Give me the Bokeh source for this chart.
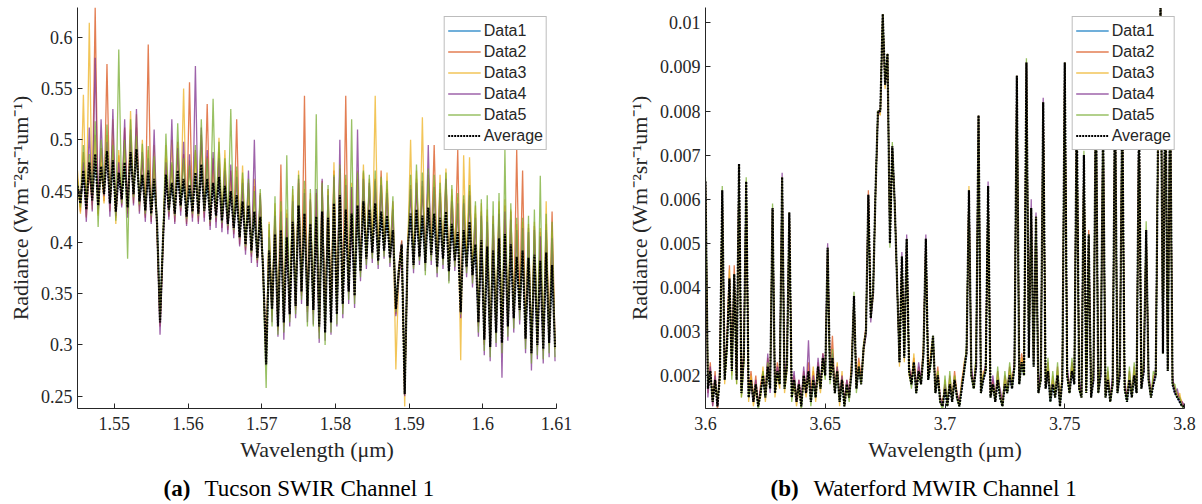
import numpy as np
from bokeh.plotting import figure
from bokeh.layouts import row, column
from bokeh.models import Range1d, FixedTicker
from bokeh.core.properties import value
from bokeh.embed import file_html
from bokeh.resources import INLINE

# ---------------- Panel (a): Tucson SWIR Channel 1 ----------------
a_wl_start = 1.545
a_wl_step = 0.0004
a_avg = [
    0.455, 0.438, 0.470, 0.432, 0.478, 0.441, 0.486, 0.436, 0.474, 0.447,
    0.489, 0.438, 0.480, 0.430, 0.468, 0.442, 0.478, 0.434, 0.488, 0.447,
    0.491, 0.440, 0.466, 0.431, 0.470, 0.428, 0.462, 0.418, 0.322, 0.402,
    0.466, 0.432, 0.458, 0.428, 0.470, 0.436, 0.462, 0.425, 0.456, 0.430,
    0.468, 0.428, 0.476, 0.431, 0.462, 0.422, 0.458, 0.426, 0.464, 0.421,
    0.455, 0.418, 0.450, 0.414, 0.446, 0.405, 0.440, 0.398, 0.436, 0.392,
    0.430, 0.385, 0.425, 0.372, 0.281, 0.392, 0.335, 0.408, 0.318, 0.412,
    0.322, 0.405, 0.330, 0.420, 0.338, 0.436, 0.352, 0.428, 0.338, 0.418,
    0.334, 0.425, 0.318, 0.430, 0.312, 0.424, 0.322, 0.438, 0.330, 0.446,
    0.340, 0.432, 0.352, 0.428, 0.348, 0.436, 0.372, 0.440, 0.384, 0.432,
    0.390, 0.438, 0.382, 0.430, 0.392, 0.426, 0.385, 0.412, 0.335, 0.372,
    0.398, 0.252, 0.392, 0.428, 0.378, 0.432, 0.386, 0.426, 0.380, 0.434,
    0.388, 0.428, 0.376, 0.424, 0.384, 0.430, 0.372, 0.418, 0.382, 0.410,
    0.332, 0.412, 0.376, 0.420, 0.368, 0.398, 0.322, 0.402, 0.305, 0.396,
    0.298, 0.392, 0.312, 0.404, 0.302, 0.408, 0.318, 0.398, 0.326, 0.386,
    0.334, 0.392, 0.306, 0.385, 0.292, 0.388, 0.300, 0.382, 0.296, 0.390, 0.302, 0.378, 0.298,
]
a_data1 = [
    0.452, 0.441, 0.466, 0.435, 0.474, 0.444, 0.480, 0.439, 0.470, 0.450,
    0.485, 0.440, 0.476, 0.433, 0.465, 0.445, 0.474, 0.437, 0.484, 0.450,
    0.488, 0.442, 0.463, 0.434, 0.466, 0.431, 0.458, 0.421, 0.326, 0.405,
    0.462, 0.434, 0.455, 0.431, 0.466, 0.438, 0.458, 0.428, 0.452, 0.433,
    0.464, 0.431, 0.472, 0.434, 0.458, 0.425, 0.455, 0.429, 0.460, 0.424,
    0.452, 0.421, 0.447, 0.417, 0.443, 0.408, 0.437, 0.401, 0.433, 0.395,
    0.427, 0.388, 0.422, 0.375, 0.285, 0.389, 0.338, 0.405, 0.321, 0.409,
    0.325, 0.402, 0.333, 0.417, 0.341, 0.432, 0.355, 0.425, 0.341, 0.415,
    0.337, 0.422, 0.321, 0.427, 0.315, 0.421, 0.325, 0.435, 0.333, 0.443,
    0.343, 0.429, 0.355, 0.425, 0.351, 0.433, 0.375, 0.437, 0.387, 0.429,
    0.393, 0.435, 0.385, 0.427, 0.395, 0.423, 0.388, 0.409, 0.338, 0.375,
    0.401, 0.256, 0.395, 0.425, 0.381, 0.429, 0.389, 0.423, 0.383, 0.431,
    0.391, 0.425, 0.379, 0.421, 0.387, 0.427, 0.375, 0.415, 0.385, 0.407,
    0.335, 0.409, 0.379, 0.417, 0.371, 0.395, 0.325, 0.399, 0.308, 0.393,
    0.301, 0.389, 0.315, 0.401, 0.305, 0.405, 0.321, 0.395, 0.329, 0.383,
    0.337, 0.389, 0.309, 0.382, 0.295, 0.385, 0.303, 0.379, 0.299, 0.387, 0.305, 0.375, 0.301,
]
a_data2 = [
    0.462, 0.430, 0.488, 0.425, 0.470, 0.436, 0.629, 0.428, 0.492, 0.440,
    0.574, 0.430, 0.500, 0.424, 0.485, 0.436, 0.512, 0.428, 0.505, 0.438,
    0.512, 0.435, 0.484, 0.424, 0.593, 0.420, 0.480, 0.410, 0.318, 0.398,
    0.482, 0.425, 0.476, 0.420, 0.498, 0.430, 0.486, 0.418, 0.556, 0.424,
    0.490, 0.420, 0.505, 0.424, 0.535, 0.416, 0.482, 0.420, 0.488, 0.414,
    0.478, 0.412, 0.470, 0.408, 0.520, 0.398, 0.462, 0.392, 0.458, 0.386,
    0.455, 0.380, 0.448, 0.368, 0.290, 0.412, 0.330, 0.430, 0.314, 0.476,
    0.318, 0.428, 0.326, 0.446, 0.334, 0.458, 0.348, 0.543, 0.332, 0.440,
    0.330, 0.448, 0.314, 0.460, 0.316, 0.452, 0.326, 0.470, 0.334, 0.472,
    0.344, 0.543, 0.356, 0.452, 0.352, 0.462, 0.376, 0.468, 0.388, 0.455,
    0.394, 0.462, 0.386, 0.470, 0.396, 0.452, 0.389, 0.440, 0.330, 0.376,
    0.402, 0.258, 0.396, 0.456, 0.382, 0.462, 0.390, 0.455, 0.384, 0.466,
    0.392, 0.495, 0.380, 0.452, 0.388, 0.458, 0.376, 0.446, 0.386, 0.490,
    0.336, 0.442, 0.380, 0.450, 0.372, 0.428, 0.318, 0.430, 0.300, 0.426,
    0.302, 0.426, 0.316, 0.432, 0.306, 0.436, 0.322, 0.430, 0.330, 0.490,
    0.338, 0.470, 0.310, 0.414, 0.296, 0.416, 0.304, 0.410, 0.300, 0.418, 0.306, 0.430, 0.302,
]
a_data3 = [
    0.470, 0.428, 0.544, 0.424, 0.614, 0.432, 0.505, 0.426, 0.478, 0.438,
    0.505, 0.432, 0.520, 0.418, 0.490, 0.440, 0.496, 0.430, 0.528, 0.441,
    0.525, 0.430, 0.500, 0.426, 0.490, 0.423, 0.495, 0.414, 0.320, 0.404,
    0.495, 0.428, 0.500, 0.424, 0.488, 0.432, 0.550, 0.420, 0.480, 0.426,
    0.488, 0.424, 0.498, 0.428, 0.484, 0.418, 0.476, 0.422, 0.502, 0.417,
    0.490, 0.414, 0.466, 0.410, 0.470, 0.402, 0.475, 0.394, 0.452, 0.388,
    0.462, 0.382, 0.440, 0.370, 0.284, 0.420, 0.328, 0.438, 0.316, 0.436,
    0.320, 0.432, 0.328, 0.452, 0.336, 0.470, 0.350, 0.452, 0.336, 0.448,
    0.332, 0.446, 0.312, 0.455, 0.318, 0.450, 0.328, 0.478, 0.332, 0.468,
    0.336, 0.462, 0.350, 0.458, 0.346, 0.470, 0.370, 0.476, 0.382, 0.462,
    0.388, 0.543, 0.380, 0.462, 0.390, 0.468, 0.383, 0.436, 0.276, 0.368,
    0.396, 0.240, 0.390, 0.500, 0.376, 0.470, 0.384, 0.522, 0.378, 0.462,
    0.386, 0.460, 0.374, 0.466, 0.382, 0.472, 0.370, 0.452, 0.380, 0.444,
    0.285, 0.485, 0.374, 0.483, 0.366, 0.436, 0.320, 0.438, 0.302, 0.432,
    0.296, 0.420, 0.310, 0.440, 0.300, 0.442, 0.316, 0.432, 0.324, 0.418,
    0.332, 0.420, 0.304, 0.418, 0.290, 0.420, 0.298, 0.414, 0.294, 0.440, 0.300, 0.410, 0.296,
]
a_data4 = [
    0.448, 0.445, 0.478, 0.420, 0.512, 0.430, 0.580, 0.432, 0.520, 0.445,
    0.498, 0.425, 0.530, 0.426, 0.478, 0.434, 0.520, 0.424, 0.510, 0.436,
    0.530, 0.428, 0.488, 0.420, 0.482, 0.418, 0.510, 0.412, 0.310, 0.396,
    0.478, 0.422, 0.520, 0.418, 0.492, 0.426, 0.498, 0.416, 0.486, 0.420,
    0.572, 0.418, 0.512, 0.420, 0.490, 0.412, 0.488, 0.414, 0.482, 0.410,
    0.470, 0.408, 0.476, 0.404, 0.464, 0.396, 0.458, 0.388, 0.470, 0.380,
    0.500, 0.376, 0.446, 0.362, 0.280, 0.405, 0.322, 0.426, 0.308, 0.430,
    0.305, 0.424, 0.318, 0.440, 0.326, 0.462, 0.340, 0.448, 0.322, 0.442,
    0.320, 0.452, 0.302, 0.462, 0.304, 0.446, 0.310, 0.464, 0.318, 0.500,
    0.326, 0.456, 0.340, 0.454, 0.336, 0.510, 0.362, 0.462, 0.374, 0.458,
    0.380, 0.460, 0.374, 0.456, 0.384, 0.448, 0.376, 0.432, 0.328, 0.364,
    0.390, 0.250, 0.384, 0.452, 0.370, 0.458, 0.378, 0.460, 0.372, 0.495,
    0.378, 0.454, 0.366, 0.448, 0.374, 0.462, 0.362, 0.440, 0.372, 0.438,
    0.326, 0.438, 0.366, 0.446, 0.356, 0.424, 0.308, 0.426, 0.290, 0.420,
    0.284, 0.418, 0.298, 0.428, 0.268, 0.430, 0.304, 0.422, 0.312, 0.412,
    0.320, 0.414, 0.292, 0.410, 0.275, 0.412, 0.286, 0.406, 0.282, 0.412, 0.288, 0.404, 0.284,
]
a_data5 = [
    0.460, 0.434, 0.495, 0.438, 0.486, 0.448, 0.518, 0.415, 0.500, 0.452,
    0.515, 0.442, 0.495, 0.421, 0.588, 0.438, 0.500, 0.384, 0.520, 0.444,
    0.504, 0.437, 0.496, 0.428, 0.494, 0.426, 0.484, 0.416, 0.324, 0.400,
    0.506, 0.430, 0.478, 0.426, 0.516, 0.434, 0.482, 0.423, 0.475, 0.428,
    0.495, 0.426, 0.520, 0.430, 0.482, 0.420, 0.540, 0.424, 0.498, 0.419,
    0.482, 0.416, 0.530, 0.412, 0.474, 0.404, 0.468, 0.396, 0.462, 0.390,
    0.450, 0.383, 0.452, 0.366, 0.258, 0.418, 0.318, 0.445, 0.310, 0.440,
    0.312, 0.485, 0.322, 0.455, 0.330, 0.466, 0.344, 0.460, 0.318, 0.452,
    0.318, 0.525, 0.306, 0.458, 0.300, 0.456, 0.312, 0.466, 0.320, 0.476,
    0.330, 0.466, 0.344, 0.520, 0.340, 0.468, 0.366, 0.470, 0.378, 0.466,
    0.384, 0.470, 0.378, 0.464, 0.386, 0.460, 0.380, 0.445, 0.332, 0.370,
    0.394, 0.254, 0.388, 0.466, 0.374, 0.476, 0.382, 0.468, 0.368, 0.472,
    0.382, 0.466, 0.370, 0.458, 0.378, 0.468, 0.360, 0.456, 0.376, 0.448,
    0.330, 0.446, 0.370, 0.456, 0.360, 0.440, 0.312, 0.442, 0.294, 0.446,
    0.288, 0.440, 0.302, 0.448, 0.292, 0.490, 0.308, 0.438, 0.316, 0.424,
    0.324, 0.424, 0.296, 0.426, 0.282, 0.432, 0.290, 0.465, 0.286, 0.428, 0.292, 0.420, 0.288,
]
a_xlim = (1.545, 1.61)
a_ylim = (0.238, 0.629)
a_xticks = [1.55, 1.56, 1.57, 1.58, 1.59, 1.6, 1.61]
a_xtick_labels = ["1.55", "1.56", "1.57", "1.58", "1.59", "1.6", "1.61"]
a_yticks = [0.25, 0.3, 0.35, 0.4, 0.45, 0.5, 0.55, 0.6]
a_ytick_labels = ["0.25", "0.3", "0.35", "0.4", "0.45", "0.5", "0.55", "0.6"]
a_tag = "(a)"
a_caption = "Tucson SWIR Channel 1"

# ---------------- Panel (b): Waterford MWIR Channel 1 ----------------
b_wl_start = 3.6
b_wl_step = 0.001
b_avg = [
    0.0064, 0.0017, 0.0021, 0.0014, 0.0019, 0.0013, 0.0020, 0.0062, 0.0019, 0.0027,
    0.0042, 0.0021, 0.0043, 0.0019, 0.0068, 0.0016, 0.0024, 0.0064, 0.0015, 0.0019,
    0.0014, 0.0018, 0.0013, 0.0016, 0.0020, 0.0015, 0.0022, 0.0017, 0.0058, 0.0016,
    0.0021, 0.0018, 0.0065, 0.0017, 0.0022, 0.0057, 0.0015, 0.0019, 0.0014, 0.0018,
    0.0013, 0.0020, 0.0016, 0.0021, 0.0014, 0.0019, 0.0015, 0.0022, 0.0017, 0.0024,
    0.0020, 0.0049, 0.0019, 0.0024, 0.0016, 0.0021, 0.0014, 0.0019, 0.0013, 0.0018,
    0.0015, 0.0021, 0.0038, 0.0017, 0.0022, 0.0018, 0.0026, 0.0030, 0.0061, 0.0033,
    0.0039, 0.0062, 0.0080, 0.0080, 0.0102, 0.0086, 0.0093, 0.0050, 0.0072, 0.0059,
    0.0041, 0.0023, 0.0047, 0.0024, 0.0051, 0.0021, 0.0018, 0.0023, 0.0016, 0.0021,
    0.0018, 0.0025, 0.0051, 0.0019, 0.0023, 0.0029, 0.0016, 0.0020, 0.0014, 0.0013,
    0.0017, 0.0013, 0.0018, 0.0014, 0.0019, 0.0015, 0.0013, 0.0017, 0.0021, 0.0025,
    0.0062, 0.0020, 0.0017, 0.0022, 0.0079, 0.0016, 0.0019, 0.0021, 0.0063, 0.0015,
    0.0018, 0.0014, 0.0019, 0.0015, 0.0013, 0.0018, 0.0016, 0.0020, 0.0017, 0.0022,
    0.0088, 0.0018, 0.0023, 0.0020, 0.0091, 0.0024, 0.0058, 0.0022, 0.0056, 0.0016,
    0.0019, 0.0082, 0.0017, 0.0021, 0.0014, 0.0018, 0.0015, 0.0020, 0.0013, 0.0019,
    0.0091, 0.0020, 0.0016, 0.0021, 0.0018, 0.0081, 0.0017, 0.0015, 0.0070, 0.0016,
    0.0052, 0.0015, 0.0019, 0.0086, 0.0016, 0.0020, 0.0078, 0.0015, 0.0019, 0.0014,
    0.0018, 0.0085, 0.0016, 0.0020, 0.0082, 0.0017, 0.0014, 0.0019, 0.0015, 0.0020,
    0.0016, 0.0080, 0.0017, 0.0021, 0.0053, 0.0019, 0.0015, 0.0018, 0.0020, 0.0077,
    0.01034, 0.0025, 0.0090, 0.0021, 0.0085, 0.0018, 0.0016, 0.0015, 0.0014, 0.0013, 0.0013,
]
b_data1 = [
    0.0064, 0.0017, 0.0021, 0.0014, 0.0019, 0.0013, 0.0020, 0.0062, 0.0019, 0.0027,
    0.0042, 0.0021, 0.0043, 0.0019, 0.0068, 0.0016, 0.0024, 0.0064, 0.0015, 0.0019,
    0.0014, 0.0018, 0.0013, 0.0016, 0.0020, 0.0015, 0.0022, 0.0017, 0.0058, 0.0016,
    0.0021, 0.0018, 0.0065, 0.0017, 0.0022, 0.0057, 0.0015, 0.0019, 0.0014, 0.0018,
    0.0013, 0.0020, 0.0016, 0.0021, 0.0014, 0.0019, 0.0015, 0.0022, 0.0017, 0.0024,
    0.0020, 0.0049, 0.0019, 0.0024, 0.0016, 0.0021, 0.0014, 0.0019, 0.0013, 0.0018,
    0.0015, 0.0021, 0.0038, 0.0017, 0.0022, 0.0018, 0.0026, 0.0030, 0.0061, 0.0033,
    0.0039, 0.0062, 0.0080, 0.0080, 0.0102, 0.0086, 0.0093, 0.0050, 0.0072, 0.0059,
    0.0041, 0.0023, 0.0047, 0.0024, 0.0051, 0.0021, 0.0018, 0.0023, 0.0016, 0.0021,
    0.0018, 0.0025, 0.0051, 0.0019, 0.0023, 0.0029, 0.0016, 0.0020, 0.0014, 0.0013,
    0.0017, 0.0013, 0.0018, 0.0014, 0.0019, 0.0015, 0.0013, 0.0017, 0.0021, 0.0025,
    0.0062, 0.0020, 0.0017, 0.0022, 0.0079, 0.0016, 0.0019, 0.0021, 0.0063, 0.0015,
    0.0018, 0.0014, 0.0019, 0.0015, 0.0013, 0.0018, 0.0016, 0.0020, 0.0017, 0.0022,
    0.0088, 0.0018, 0.0023, 0.0020, 0.0091, 0.0024, 0.0058, 0.0022, 0.0056, 0.0016,
    0.0019, 0.0082, 0.0017, 0.0021, 0.0014, 0.0018, 0.0015, 0.0020, 0.0013, 0.0019,
    0.0091, 0.0020, 0.0016, 0.0021, 0.0018, 0.0081, 0.0017, 0.0015, 0.0070, 0.0016,
    0.0052, 0.0015, 0.0019, 0.0086, 0.0016, 0.0020, 0.0078, 0.0015, 0.0019, 0.0014,
    0.0018, 0.0085, 0.0016, 0.0020, 0.0082, 0.0017, 0.0014, 0.0019, 0.0015, 0.0020,
    0.0016, 0.0080, 0.0017, 0.0021, 0.0053, 0.0019, 0.0015, 0.0018, 0.0020, 0.0077,
    0.01034, 0.0025, 0.0090, 0.0021, 0.0085, 0.0018, 0.0016, 0.0015, 0.0014, 0.0013, 0.0013,
]
b_data2 = [
    0.0064, 0.0016, 0.0023, 0.0013, 0.0021, 0.0012, 0.0022, 0.0061, 0.0020, 0.0029,
    0.0045, 0.0023, 0.0045, 0.0020, 0.0068, 0.0017, 0.0026, 0.0064, 0.0016, 0.0021,
    0.0015, 0.0020, 0.0013, 0.0018, 0.0021, 0.0016, 0.0024, 0.0018, 0.0058, 0.0017,
    0.0023, 0.0019, 0.0065, 0.0018, 0.0024, 0.0057, 0.0016, 0.0020, 0.0015, 0.0019,
    0.0014, 0.0021, 0.0017, 0.0023, 0.0015, 0.0021, 0.0016, 0.0023, 0.0018, 0.0025,
    0.0021, 0.0049, 0.0020, 0.0029, 0.0017, 0.0022, 0.0015, 0.0020, 0.0014, 0.0019,
    0.0016, 0.0023, 0.0038, 0.0018, 0.0024, 0.0019, 0.0027, 0.0031, 0.0062, 0.0034,
    0.0039, 0.0062, 0.0080, 0.0080, 0.0102, 0.0086, 0.0093, 0.0051, 0.0072, 0.0059,
    0.0041, 0.0024, 0.0046, 0.0026, 0.0050, 0.0022, 0.0019, 0.0024, 0.0017, 0.0022,
    0.0019, 0.0026, 0.0051, 0.0020, 0.0024, 0.0028, 0.0017, 0.0022, 0.0015, 0.0014,
    0.0018, 0.0014, 0.0020, 0.0015, 0.0021, 0.0016, 0.0014, 0.0019, 0.0022, 0.0026,
    0.0062, 0.0021, 0.0018, 0.0024, 0.0079, 0.0017, 0.0020, 0.0022, 0.0063, 0.0016,
    0.0019, 0.0015, 0.0021, 0.0016, 0.0014, 0.0020, 0.0017, 0.0022, 0.0018, 0.0023,
    0.0088, 0.0019, 0.0025, 0.0021, 0.0091, 0.0025, 0.0058, 0.0023, 0.0056, 0.0017,
    0.0020, 0.0082, 0.0018, 0.0023, 0.0015, 0.0019, 0.0016, 0.0022, 0.0014, 0.0020,
    0.0091, 0.0021, 0.0017, 0.0023, 0.0019, 0.0081, 0.0018, 0.0016, 0.0070, 0.0017,
    0.0053, 0.0016, 0.0020, 0.0086, 0.0017, 0.0022, 0.0078, 0.0016, 0.0021, 0.0015,
    0.0019, 0.0085, 0.0017, 0.0022, 0.0082, 0.0018, 0.0015, 0.0021, 0.0016, 0.0022,
    0.0017, 0.0080, 0.0018, 0.0023, 0.0053, 0.0020, 0.0016, 0.0019, 0.0021, 0.0077,
    0.01034, 0.0026, 0.0090, 0.0022, 0.0085, 0.0019, 0.0017, 0.0016, 0.0015, 0.0014, 0.0013,
]
b_data3 = [
    0.0063, 0.0019, 0.0020, 0.0016, 0.0018, 0.0015, 0.0019, 0.0062, 0.0018, 0.0027,
    0.0044, 0.0020, 0.0042, 0.0018, 0.0068, 0.0015, 0.0023, 0.0063, 0.0014, 0.0020,
    0.0013, 0.0017, 0.0014, 0.0015, 0.0022, 0.0014, 0.0021, 0.0019, 0.0058, 0.0015,
    0.0020, 0.0017, 0.0065, 0.0016, 0.0021, 0.0057, 0.0015, 0.0018, 0.0013, 0.0017,
    0.0013, 0.0019, 0.0015, 0.0020, 0.0016, 0.0022, 0.0014, 0.0021, 0.0016, 0.0023,
    0.0020, 0.0048, 0.0019, 0.0023, 0.0016, 0.0023, 0.0013, 0.0021, 0.0013, 0.0017,
    0.0015, 0.0022, 0.0037, 0.0017, 0.0023, 0.0018, 0.0025, 0.0030, 0.0061, 0.0033,
    0.0038, 0.0061, 0.0080, 0.0079, 0.0102, 0.0085, 0.0093, 0.0050, 0.0071, 0.0059,
    0.0041, 0.0022, 0.0047, 0.0023, 0.0051, 0.0020, 0.0018, 0.0025, 0.0016, 0.0021,
    0.0018, 0.0027, 0.0050, 0.0019, 0.0025, 0.0029, 0.0016, 0.0021, 0.0014, 0.0013,
    0.0019, 0.0013, 0.0019, 0.0014, 0.0020, 0.0015, 0.0013, 0.0018, 0.0023, 0.0025,
    0.0063, 0.0020, 0.0017, 0.0023, 0.0079, 0.0016, 0.0021, 0.0021, 0.0063, 0.0015,
    0.0018, 0.0014, 0.0020, 0.0016, 0.0013, 0.0019, 0.0016, 0.0021, 0.0019, 0.0022,
    0.0088, 0.0018, 0.0024, 0.0020, 0.0091, 0.0024, 0.0058, 0.0024, 0.0056, 0.0016,
    0.0019, 0.0082, 0.0017, 0.0022, 0.0015, 0.0020, 0.0015, 0.0021, 0.0013, 0.0021,
    0.0091, 0.0020, 0.0016, 0.0022, 0.0020, 0.0081, 0.0017, 0.0015, 0.0070, 0.0016,
    0.0052, 0.0015, 0.0021, 0.0086, 0.0016, 0.0021, 0.0078, 0.0015, 0.0020, 0.0014,
    0.0018, 0.0085, 0.0016, 0.0021, 0.0082, 0.0017, 0.0015, 0.0020, 0.0015, 0.0021,
    0.0016, 0.0080, 0.0017, 0.0022, 0.0053, 0.0019, 0.0015, 0.0020, 0.0020, 0.0077,
    0.01034, 0.0025, 0.0090, 0.0021, 0.0085, 0.0018, 0.0017, 0.0015, 0.0016, 0.0013, 0.0013,
]
b_data4 = [
    0.0064, 0.0015, 0.0022, 0.0013, 0.0020, 0.0013, 0.0021, 0.0062, 0.0020, 0.0028,
    0.0041, 0.0022, 0.0042, 0.0021, 0.0067, 0.0017, 0.0025, 0.0064, 0.0016, 0.0018,
    0.0014, 0.0019, 0.0013, 0.0017, 0.0019, 0.0016, 0.0025, 0.0016, 0.0058, 0.0017,
    0.0022, 0.0019, 0.0066, 0.0018, 0.0025, 0.0056, 0.0016, 0.0021, 0.0014, 0.0019,
    0.0014, 0.0022, 0.0016, 0.0028, 0.0014, 0.0020, 0.0016, 0.0024, 0.0018, 0.0025,
    0.0021, 0.0050, 0.0021, 0.0025, 0.0017, 0.0022, 0.0015, 0.0020, 0.0014, 0.0019,
    0.0016, 0.0020, 0.0038, 0.0018, 0.0021, 0.0019, 0.0026, 0.0029, 0.0061, 0.0032,
    0.0039, 0.0062, 0.0079, 0.0080, 0.0101, 0.0086, 0.0092, 0.0050, 0.0072, 0.0060,
    0.0040, 0.0023, 0.0048, 0.0024, 0.0052, 0.0022, 0.0019, 0.0022, 0.0017, 0.0023,
    0.0019, 0.0025, 0.0052, 0.0020, 0.0023, 0.0028, 0.0017, 0.0020, 0.0015, 0.0013,
    0.0018, 0.0014, 0.0018, 0.0015, 0.0019, 0.0016, 0.0014, 0.0017, 0.0022, 0.0026,
    0.0062, 0.0022, 0.0018, 0.0022, 0.0079, 0.0017, 0.0019, 0.0023, 0.0064, 0.0016,
    0.0020, 0.0015, 0.0019, 0.0017, 0.0014, 0.0018, 0.0018, 0.0020, 0.0017, 0.0024,
    0.0088, 0.0019, 0.0023, 0.0021, 0.0091, 0.0025, 0.0060, 0.0022, 0.0057, 0.0017,
    0.0021, 0.0083, 0.0018, 0.0021, 0.0016, 0.0018, 0.0017, 0.0020, 0.0014, 0.0019,
    0.0091, 0.0022, 0.0017, 0.0021, 0.0019, 0.0081, 0.0019, 0.0016, 0.0070, 0.0017,
    0.0052, 0.0016, 0.0019, 0.0086, 0.0018, 0.0020, 0.0078, 0.0017, 0.0019, 0.0015,
    0.0020, 0.0085, 0.0017, 0.0020, 0.0082, 0.0019, 0.0015, 0.0019, 0.0017, 0.0020,
    0.0018, 0.0080, 0.0018, 0.0021, 0.0052, 0.0021, 0.0016, 0.0018, 0.0022, 0.0077,
    0.01034, 0.0026, 0.0090, 0.0022, 0.0085, 0.0020, 0.0016, 0.0017, 0.0014, 0.0014, 0.0013,
]
b_data5 = [
    0.0065, 0.0017, 0.0021, 0.0014, 0.0019, 0.0014, 0.0020, 0.0063, 0.0019, 0.0026,
    0.0042, 0.0019, 0.0043, 0.0018, 0.0068, 0.0015, 0.0023, 0.0065, 0.0015, 0.0019,
    0.0015, 0.0018, 0.0012, 0.0016, 0.0021, 0.0015, 0.0023, 0.0017, 0.0059, 0.0016,
    0.0021, 0.0018, 0.0065, 0.0017, 0.0022, 0.0057, 0.0014, 0.0019, 0.0015, 0.0018,
    0.0012, 0.0020, 0.0017, 0.0021, 0.0013, 0.0019, 0.0015, 0.0022, 0.0017, 0.0024,
    0.0019, 0.0049, 0.0018, 0.0026, 0.0016, 0.0021, 0.0014, 0.0019, 0.0013, 0.0018,
    0.0014, 0.0021, 0.0039, 0.0016, 0.0022, 0.0018, 0.0027, 0.0030, 0.0060, 0.0033,
    0.0040, 0.0062, 0.0080, 0.0080, 0.0102, 0.0086, 0.0093, 0.0049, 0.0073, 0.0059,
    0.0041, 0.0023, 0.0047, 0.0024, 0.0051, 0.0021, 0.0017, 0.0023, 0.0016, 0.0021,
    0.0018, 0.0024, 0.0051, 0.0019, 0.0022, 0.0029, 0.0016, 0.0021, 0.0014, 0.0012,
    0.0020, 0.0013, 0.0021, 0.0014, 0.0020, 0.0015, 0.0013, 0.0018, 0.0021, 0.0027,
    0.0062, 0.0020, 0.0017, 0.0025, 0.0079, 0.0016, 0.0020, 0.0021, 0.0063, 0.0015,
    0.0018, 0.0014, 0.0022, 0.0015, 0.0013, 0.0021, 0.0016, 0.0023, 0.0017, 0.0022,
    0.0088, 0.0018, 0.0023, 0.0020, 0.0092, 0.0024, 0.0058, 0.0022, 0.0056, 0.0016,
    0.0019, 0.0082, 0.0017, 0.0024, 0.0014, 0.0021, 0.0015, 0.0023, 0.0013, 0.0020,
    0.0091, 0.0020, 0.0016, 0.0024, 0.0018, 0.0081, 0.0017, 0.0015, 0.0071, 0.0016,
    0.0052, 0.0015, 0.0022, 0.0086, 0.0016, 0.0023, 0.0078, 0.0015, 0.0022, 0.0014,
    0.0018, 0.0085, 0.0016, 0.0023, 0.0082, 0.0017, 0.0014, 0.0022, 0.0015, 0.0023,
    0.0016, 0.0080, 0.0017, 0.0024, 0.0055, 0.0019, 0.0015, 0.0021, 0.0020, 0.0078,
    0.01034, 0.0025, 0.0090, 0.0021, 0.0085, 0.0018, 0.0018, 0.0015, 0.0015, 0.0013, 0.0012,
]
b_xlim = (3.6, 3.8)
b_ylim = (0.00125, 0.01035)
b_xticks = [3.6, 3.65, 3.7, 3.75, 3.8]
b_xtick_labels = ["3.6", "3.65", "3.7", "3.75", "3.8"]
b_yticks = [0.002, 0.003, 0.004, 0.005, 0.006, 0.007, 0.008, 0.009, 0.01]
b_ytick_labels = ["0.002", "0.003", "0.004", "0.005", "0.006", "0.007", "0.008", "0.009", "0.01"]
b_tag = "(b)"
b_caption = "Waterford MWIR Channel 1"

series_names = ["Data1", "Data2", "Data3", "Data4", "Data5"]
avg_name = "Average"
x_label = "Wavelength (\u03bcm)"
y_label = "Radiance (Wm\u207b\u00b2sr\u207b\u00b9um\u207b\u00b9)"

# ---------------- styles ----------------
series_colors = ["#0072BD", "#D95319", "#EDB120", "#7E2F8E", "#77AC30"]
AX = "#262626"
SERIF = "Liberation Serif"
PLOT_H = 466
CAP_H = 38


def make_panel(wl_start, wl_step, series, avg, xlim, ylim, xticks, xlabels,
               yticks, ylabels, width, borders):
    bl, br, bt, bb = borders
    p = figure(width=width, height=PLOT_H, x_range=Range1d(*xlim), y_range=Range1d(*ylim),
               output_backend="svg", toolbar_location=None, title=None,
               min_border_left=bl, min_border_right=br, min_border_top=bt,
               min_border_bottom=bb)
    wl = wl_start + wl_step * np.arange(len(avg))
    for ys, name, col in zip(series, series_names, series_colors):
        p.line(wl, ys, line_color=col, line_width=1.3, line_alpha=0.75, legend_label=name)
    p.line(wl, avg, line_color="black", line_width=2.2, line_dash="2 1", legend_label=avg_name)

    p.xgrid.visible = False
    p.ygrid.visible = False
    p.outline_line_color = None
    p.background_fill_color = "white"
    p.border_fill_color = "white"

    for ax, ticks, labels in ((p.xaxis[0], xticks, xlabels), (p.yaxis[0], yticks, ylabels)):
        ax.ticker = FixedTicker(ticks=ticks)
        ax.major_label_overrides = {t: s for t, s in zip(ticks, labels)}
        ax.axis_line_color = AX
        ax.major_tick_line_color = AX
        ax.major_tick_in = 5
        ax.major_tick_out = 0
        ax.minor_tick_line_color = None
        ax.major_label_text_font = SERIF
        ax.major_label_text_font_size = "18px"
        ax.major_label_text_color = AX
        ax.axis_label_text_font = SERIF
        ax.axis_label_text_font_size = "22px"
        ax.axis_label_text_font_style = "normal"
        ax.axis_label_text_color = AX
    p.xaxis[0].axis_label = x_label
    p.yaxis[0].axis_label = y_label
    p.xaxis[0].major_label_standoff = 8
    p.yaxis[0].major_label_standoff = 5
    p.xaxis[0].axis_label_standoff = 4
    p.yaxis[0].axis_label_standoff = 5

    lg = p.legend[0]
    lg.location = "top_right"
    lg.margin = 9
    lg.padding = 3
    lg.spacing = 0
    lg.glyph_width = 33
    lg.glyph_height = 21
    lg.label_height = 21
    lg.label_standoff = 3
    lg.label_text_font = "Liberation Sans"
    lg.label_text_font_size = "16px"
    lg.label_text_color = AX
    lg.border_line_color = "#7a7a7a"
    lg.border_line_width = 1
    lg.background_fill_color = "white"
    lg.background_fill_alpha = 1.0
    return p


pa = make_panel(a_wl_start, a_wl_step, [a_data1, a_data2, a_data3, a_data4, a_data5], a_avg,
                a_xlim, a_ylim, a_xticks, a_xtick_labels, a_yticks, a_ytick_labels,
                600, (77, 44, 6, 57))
pb = make_panel(b_wl_start, b_wl_step, [b_data1, b_data2, b_data3, b_data4, b_data5], b_avg,
                b_xlim, b_ylim, b_xticks, b_xtick_labels, b_yticks, b_ytick_labels,
                602, (105, 18, 7, 58))

# caption strip below both panels (screen-pixel layout, not data)
cap = figure(width=1202, height=CAP_H, x_range=Range1d(0, 1202), y_range=Range1d(0, CAP_H),
             output_backend="svg", toolbar_location=None, title=None,
             x_axis_type=None, y_axis_type=None,
             min_border_left=0, min_border_right=0, min_border_top=0, min_border_bottom=0)
cap.xgrid.visible = False
cap.ygrid.visible = False
cap.outline_line_color = None
cap_mid = 16
cap.text(x=[163, 770], y=[cap_mid, cap_mid], text=[a_tag, b_tag],
         text_font=value(SERIF), text_font_size="23px", text_font_style="bold",
         text_color="black", text_align="left", text_baseline="middle")
cap.text(x=[204, 813], y=[cap_mid, cap_mid], text=[a_caption, b_caption],
         text_font=value(SERIF), text_font_size="23px",
         text_color="black", text_align="left", text_baseline="middle")

layout = column(row(pa, pb), cap)
open("out.html", "w").write(file_html(layout, INLINE))
